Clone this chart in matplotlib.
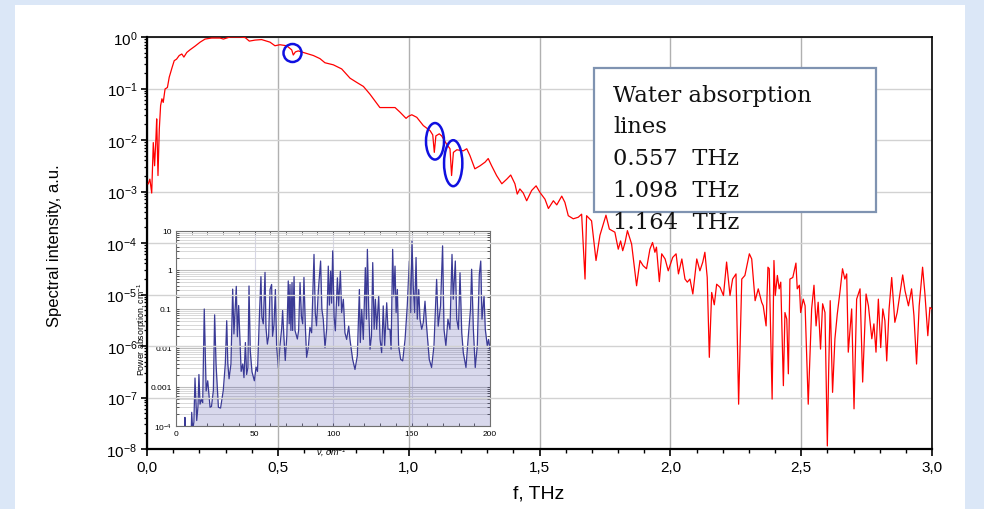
import numpy as np
import matplotlib
matplotlib.use("Agg")
import matplotlib.pyplot as plt
from matplotlib.patches import Rectangle, Ellipse
from matplotlib.ticker import (FixedLocator, FixedFormatter, LogLocator,
                               NullFormatter, MultipleLocator)

# ---------------- data ----------------
freq_thz = [
    0.005, 0.011, 0.018, 0.024, 0.029, 0.034, 0.037, 0.042, 0.047, 0.052,
    0.057, 0.062, 0.069, 0.078, 0.085, 0.096, 0.104, 0.113, 0.123, 0.133,
    0.141, 0.152, 0.164, 0.183, 0.203, 0.222, 0.247, 0.279, 0.292, 0.317,
    0.355, 0.375, 0.391, 0.413, 0.438, 0.470, 0.489, 0.508, 0.534, 0.553,
    0.559, 0.567, 0.578, 0.610, 0.636, 0.661, 0.680, 0.712, 0.744, 0.776,
    0.801, 0.827, 0.852, 0.871, 0.890, 0.916, 0.948, 0.967, 0.990, 0.999,
    1.012, 1.031, 1.056, 1.082, 1.092, 1.098, 1.104, 1.117, 1.126, 1.145,
    1.158, 1.164, 1.171, 1.184, 1.209, 1.222, 1.234, 1.253, 1.273, 1.292,
    1.304, 1.317, 1.336, 1.356, 1.375, 1.390, 1.406, 1.415, 1.425, 1.438,
    1.451, 1.470, 1.487, 1.502, 1.521, 1.534, 1.553, 1.566, 1.585, 1.597,
    1.610, 1.629, 1.648, 1.661, 1.674, 1.680, 1.699, 1.716, 1.731, 1.754,
    1.767, 1.788, 1.801, 1.810, 1.818, 1.827, 1.836, 1.852, 1.871, 1.884,
    1.896, 1.909, 1.922, 1.932, 1.941, 1.947, 1.958, 1.967, 1.980, 1.992,
    2.009, 2.022, 2.031, 2.044, 2.056, 2.065, 2.075, 2.086, 2.101, 2.113,
    2.124, 2.132, 2.141, 2.149, 2.158, 2.168, 2.177, 2.190, 2.203, 2.215,
    2.228, 2.238, 2.251, 2.261, 2.273, 2.285, 2.302, 2.311, 2.324, 2.336,
    2.349, 2.355, 2.366, 2.373, 2.378, 2.389, 2.396, 2.401, 2.409, 2.416,
    2.422, 2.432, 2.438, 2.445, 2.451, 2.457, 2.468, 2.480, 2.485, 2.493,
    2.498, 2.508, 2.515, 2.527, 2.540, 2.549, 2.557, 2.565, 2.574, 2.582,
    2.591, 2.600, 2.605, 2.611, 2.620, 2.629, 2.638, 2.648, 2.658, 2.667,
    2.674, 2.680, 2.693, 2.702, 2.712, 2.725, 2.735, 2.748, 2.757, 2.770,
    2.778, 2.786, 2.795, 2.804, 2.812, 2.820, 2.827, 2.836, 2.846, 2.858,
    2.867, 2.878, 2.888, 2.897, 2.910, 2.922, 2.931, 2.941, 2.951, 2.964,
    2.973, 2.984, 2.992, 2.999,
]
log10_intensity = [
    -2.85, -2.76, -3.03, -2.05, -2.50, -1.98, -1.59, -2.69, -1.79, -1.33,
    -1.20, -1.27, -1.01, -0.98, -0.78, -0.59, -0.46, -0.43, -0.36, -0.33,
    -0.39, -0.30, -0.25, -0.18, -0.10, -0.04, -0.02, -0.02, -0.04, 0.00,
    0.00, -0.01, -0.08, -0.06, -0.05, -0.10, -0.17, -0.15, -0.17, -0.25,
    -0.35, -0.29, -0.27, -0.32, -0.36, -0.42, -0.50, -0.54, -0.62, -0.80,
    -0.88, -0.96, -1.11, -1.24, -1.37, -1.37, -1.37, -1.46, -1.58, -1.54,
    -1.51, -1.56, -1.72, -1.82, -1.90, -2.24, -1.92, -1.88, -1.92, -2.08,
    -2.17, -2.69, -2.24, -2.19, -2.21, -2.17, -2.30, -2.56, -2.50, -2.43,
    -2.36, -2.50, -2.69, -2.85, -2.76, -2.68, -2.85, -3.05, -2.95, -3.03,
    -3.18, -2.98, -2.89, -3.02, -3.15, -3.33, -3.18, -3.26, -3.09, -3.21,
    -3.47, -3.53, -3.50, -3.44, -4.70, -3.47, -3.57, -4.34, -3.85, -3.46,
    -3.73, -3.79, -4.12, -3.96, -4.15, -3.99, -3.76, -4.02, -4.83, -4.34,
    -4.44, -4.50, -4.12, -3.99, -4.18, -4.08, -4.75, -4.21, -4.31, -4.54,
    -4.28, -4.21, -4.60, -4.31, -4.70, -4.76, -4.70, -4.99, -4.31, -4.54,
    -4.37, -4.18, -4.67, -6.22, -4.96, -5.20, -4.80, -4.86, -5.02, -4.37,
    -5.02, -4.70, -4.60, -7.13, -4.70, -4.63, -4.21, -4.31, -5.12, -4.89,
    -5.15, -5.22, -5.61, -4.47, -4.50, -7.03, -4.34, -5.02, -4.63, -4.89,
    -4.76, -6.77, -5.35, -5.48, -6.54, -4.70, -4.67, -4.39, -4.89, -4.82,
    -5.35, -5.09, -5.22, -7.13, -5.28, -4.82, -5.61, -5.15, -6.06, -5.18,
    -5.35, -7.94, -6.51, -5.12, -6.90, -5.86, -5.38, -4.96, -4.50, -4.70,
    -4.60, -6.12, -5.28, -7.22, -5.09, -4.89, -6.70, -4.99, -5.22, -5.86,
    -5.57, -6.12, -5.09, -6.03, -5.28, -5.51, -6.29, -5.28, -4.67, -5.54,
    -5.35, -4.96, -4.62, -4.93, -5.22, -4.89, -5.41, -6.35, -5.22, -4.47,
    -4.99, -5.80, -5.25, -5.28,
]

inset_wavenumber = [
    5.4, 5.7, 6.0, 9.6, 10.0, 10.6, 11.4, 12.1, 13.2, 14.0,
    14.6, 15.3, 16.3, 17.0, 18.0, 19.2, 20.2, 21.7, 22.6, 23.8,
    24.6, 25.5, 27.0, 28.4, 30.1, 31.4, 32.3, 33.0, 33.8, 35.0,
    36.1, 36.9, 37.8, 38.4, 39.1, 39.9, 40.8, 41.5, 42.5, 43.3,
    44.2, 45.0, 45.8, 46.5, 47.3, 48.4, 49.9, 51.0, 51.9, 53.1,
    54.1, 54.7, 55.6, 56.7, 57.3, 58.2, 59.0, 59.9, 60.9, 61.5,
    62.4, 63.3, 64.1, 65.2, 66.2, 67.3, 67.9, 68.7, 69.6, 70.6,
    71.5, 72.1, 72.6, 73.2, 73.9, 74.3, 75.2, 75.8, 76.4, 77.3,
    78.1, 79.0, 79.9, 80.7, 81.5, 82.4, 83.2, 84.3, 85.3, 86.4,
    87.9, 88.7, 89.5, 90.7, 92.1, 92.9, 93.8, 94.9, 96.0, 97.0,
    97.7, 98.5, 99.1, 99.8, 100.7, 101.5, 102.8, 103.6, 104.7, 105.5,
    106.6, 107.6, 108.7, 110.0, 110.8, 112.5, 114.0, 115.5, 116.8, 117.4,
    118.3, 119.3, 120.6, 121.3, 121.9, 122.8, 123.6, 124.5, 125.3, 126.2,
    127.0, 127.8, 129.1, 130.0, 131.0, 132.0, 132.9, 134.2, 135.0, 136.3,
    137.0, 138.0, 138.7, 139.5, 140.2, 141.0, 141.8, 143.1, 144.4, 145.9,
    147.3, 148.6, 149.5, 150.3, 151.1, 152.0, 152.9, 153.7, 154.6, 155.4,
    156.5, 157.5, 158.6, 159.6, 161.3, 162.8, 164.3, 166.0, 167.0, 168.5,
    169.8, 170.7, 171.9, 173.2, 174.5, 175.8, 176.6, 177.9, 178.8, 179.9,
    180.9, 182.0, 183.0, 184.7, 186.2, 187.6, 188.3, 189.4, 190.6, 191.9,
    193.2, 194.1, 194.9, 196.2, 197.0, 198.3, 199.1, 200.0,
]
inset_log10_absorption = [
    -4.3, -3.78, -4.3, -4.3, -3.65, -4.1, -3.9, -2.77, -3.86, -3.5,
    -2.68, -3.44, -3.31, -3.4, -1.00, -3.1, -2.84, -3.52, -3.5, -3.09,
    -1.15, -2.41, -3.52, -3.54, -3.09, -2.41, -1.30, -2.4, -2.79, -2.41,
    -0.49, -1.64, -0.91, -0.42, -1.71, -0.91, -1.90, -2.6, -2.41, -2.76,
    -1.86, -2.68, -2.5, -0.41, -2.07, -2.61, -2.84, -2.49, -2.6, -1.21,
    -0.17, -1.21, -1.38, -0.06, -1.47, -1.9, -1.7, -0.50, -0.37, -1.7,
    -1.4, -0.50, -1.95, -2.51, -1.95, -1.5, -1.04, -1.7, -2.32, -1.68,
    -0.28, -1.38, -0.37, -1.55, -0.32, -1.55, -0.17, -1.55, -1.64, -1.77,
    -1.55, -0.32, -1.2, -1.38, -0.19, -1.47, -2.24, -1.98, -1.47, -1.61,
    0.40, -1.09, -1.43, -0.5, 0.23, -1.0, -1.26, -1.99, -1.5, 0.10,
    -0.9, -0.03, -0.85, 0.49, -1.2, -1.56, -0.20, -0.92, -0.03, -1.09,
    -0.75, -1.61, -1.78, -1.44, -1.78, -2.29, -2.55, -2.2, -0.50, -1.86,
    -1.01, -1.78, 0.06, -1.26, 0.53, -1.09, -2.03, -1.69, 0.19, -1.52,
    -0.75, -1.52, -0.67, -1.78, -2.12, -0.92, -1.95, -0.84, -1.52, -1.52,
    -2.03, 0.53, -0.67, 0.10, -1.09, -0.50, -1.95, -2.29, -2.33, -1.78,
    -0.92, 0.23, -1.09, 0.74, -0.41, -1.09, 0.32, -1.26, -0.50, -1.26,
    -1.52, -1.35, -0.80, -1.44, -2.29, -2.50, -1.95, -0.24, -1.44, -0.92,
    0.62, -1.52, -1.95, -1.26, -1.52, 0.40, -0.75, 0.23, -1.26, -1.52,
    -0.07, -1.61, -2.12, -2.50, -1.69, -1.0, 0.02, -1.52, -2.50, -1.95,
    -0.11, 0.23, -1.26, -0.67, -1.52, -1.95, -1.78, -2.03,
]

main_xticks = [0.0, 0.5, 1.0, 1.5, 2.0, 2.5, 3.0]
main_xtick_labels = ["0,0", "0,5", "1,0", "1,5", "2,0", "2,5", "3,0"]
inset_xticks = [0, 50, 100, 150, 200]
inset_xtick_labels = ["0", "50", "100", "150", "200"]
inset_yticks = [1e-4, 1e-3, 1e-2, 1e-1, 1, 10]
inset_ytick_labels = ["10$^{-4}$", "0.001", "0.01", "0.1", "1", "10"]
note_lines = ["Water absorption", "lines", "0.557  THz", "1.098  THz", "1.164  THz"]

# ---------------- styling ----------------
plt.rcParams['font.family'] = ['Liberation Sans', 'DejaVu Sans']
plt.rcParams['mathtext.default'] = 'regular'

W, H = 984, 510
def fx(px):
    return px / W
def fy(py):
    return 1 - py / H

fig = plt.figure(figsize=(W / 100, H / 100), dpi=100, facecolor='#dbe7f7')
fig.add_artist(Rectangle((fx(15), 0), fx(965) - fx(15), fy(6), transform=fig.transFigure,
                         facecolor='white', edgecolor='none', zorder=-5))

# ---------------- main axes ----------------
ax = fig.add_axes([fx(147), fy(450), fx(932) - fx(147), fy(38) - fy(450)])
ax.set_zorder(2)
ax.set_facecolor('none')
ax.plot(freq_thz, np.power(10.0, log10_intensity), color='#ff0000', lw=0.9, zorder=3)
ax.set_yscale('log')
ax.set_xlim(0, 3.0)
ax.set_ylim(1e-8, 1)
ax.xaxis.set_major_locator(FixedLocator(main_xticks))
ax.xaxis.set_major_formatter(FixedFormatter(main_xtick_labels))
ax.xaxis.set_minor_locator(MultipleLocator(0.1))
ax.yaxis.set_major_locator(LogLocator(base=10, numticks=20))
ax.yaxis.set_minor_locator(LogLocator(base=10, subs=np.arange(2, 10), numticks=20))
ax.yaxis.set_minor_formatter(NullFormatter())
ax.grid(True, which='major', axis='x', color='#b0b0b0', lw=1.0)
ax.grid(True, which='major', axis='y', color='#d2d2d2', lw=1.0)
ax.tick_params(which='both', direction='out', top=False, right=False, labelsize=11,
               colors='black', pad=3)
ax.tick_params(axis='x', which='major', length=5, width=1.2)
ax.tick_params(axis='x', which='minor', length=2.8, width=1.0)
ax.tick_params(axis='y', which='major', length=4, width=1.2)
ax.tick_params(axis='y', which='minor', length=2.5, width=0.9)
for s in ['left', 'bottom']:
    ax.spines[s].set_linewidth(1.6)
for s in ['top', 'right']:
    ax.spines[s].set_linewidth(1.2)

fig.text(fx(55), fy(246), 'Spectral intensity, a.u.', rotation=90, ha='center', va='center',
         fontsize=12)
fig.text(fx(539), fy(494), 'f, THz', ha='center', va='center', fontsize=14)

# ---------------- ellipses marking water lines ----------------
for cx, cy, w, h in [(292.5, 54, 18, 18), (435, 142.3, 18, 36.5), (453.2, 164.2, 18.3, 46)]:
    fig.add_artist(Ellipse((fx(cx), fy(cy)), w / W, h / H, transform=fig.transFigure,
                           facecolor='none', edgecolor='#1010e0', lw=1.8, zorder=6))

# ---------------- note box ----------------
fig.add_artist(Rectangle((fx(594.3), fy(213.3)), fx(876) - fx(594.3), fy(69) - fy(213.3),
                         transform=fig.transFigure, facecolor='white', edgecolor='#7f93b1',
                         lw=1.6, zorder=5))
baselines = [101.7, 133.3, 165.0, 197.0, 229.3]
for line, b in zip(note_lines, baselines):
    fig.text(fx(613), fy(b), line, ha='left', va='baseline', fontsize=16.3,
             family='DejaVu Serif', color='#111111', zorder=7)

# ---------------- inset ----------------
axin = fig.add_axes([fx(176), fy(427), fx(490) - fx(176), fy(232) - fy(427)])
axin.set_zorder(1)
axin.set_facecolor('white')
axin.set_axisbelow(True)
iy = np.power(10.0, inset_log10_absorption)
axin.fill_between(inset_wavenumber, iy, 1e-6, color='#3c3ca0', alpha=0.2, lw=0)
axin.plot(inset_wavenumber, iy, color='#3a3a96', lw=0.9)
axin.set_yscale('log')
axin.set_xlim(0, 200)
axin.set_ylim(1e-4, 10)
axin.yaxis.set_major_locator(FixedLocator(inset_yticks))
axin.yaxis.set_major_formatter(FixedFormatter(inset_ytick_labels))
axin.yaxis.set_minor_locator(LogLocator(base=10, subs=np.arange(2, 10), numticks=20))
axin.yaxis.set_minor_formatter(NullFormatter())
axin.xaxis.set_major_locator(FixedLocator(inset_xticks))
axin.xaxis.set_major_formatter(FixedFormatter(inset_xtick_labels))
axin.xaxis.set_minor_locator(MultipleLocator(10))
axin.grid(True, which='major', axis='y', color='#bdbdbd', lw=0.8)
axin.grid(True, which='minor', axis='y', color='#d8d8d8', lw=0.7)
axin.grid(True, which='major', axis='x', color='#d6d6e6', lw=0.8)
axin.tick_params(which='both', direction='in', top=True, right=True, labelsize=6,
                 length=2, width=0.6, colors='#444444', labelcolor='black', pad=3)
for s in axin.spines.values():
    s.set_color('#707070')
    s.set_linewidth(0.8)

fig.text(fx(142), fy(329), 'Power absorption, cm$^{-1}$', rotation=90, ha='center',
         va='center', fontsize=6.3)
fig.text(fx(331), fy(453), 'ν, cm$^{-1}$', ha='center', va='center', fontsize=6.5,
         style='italic')

fig.savefig('out.png', dpi=100, facecolor=fig.get_facecolor())
